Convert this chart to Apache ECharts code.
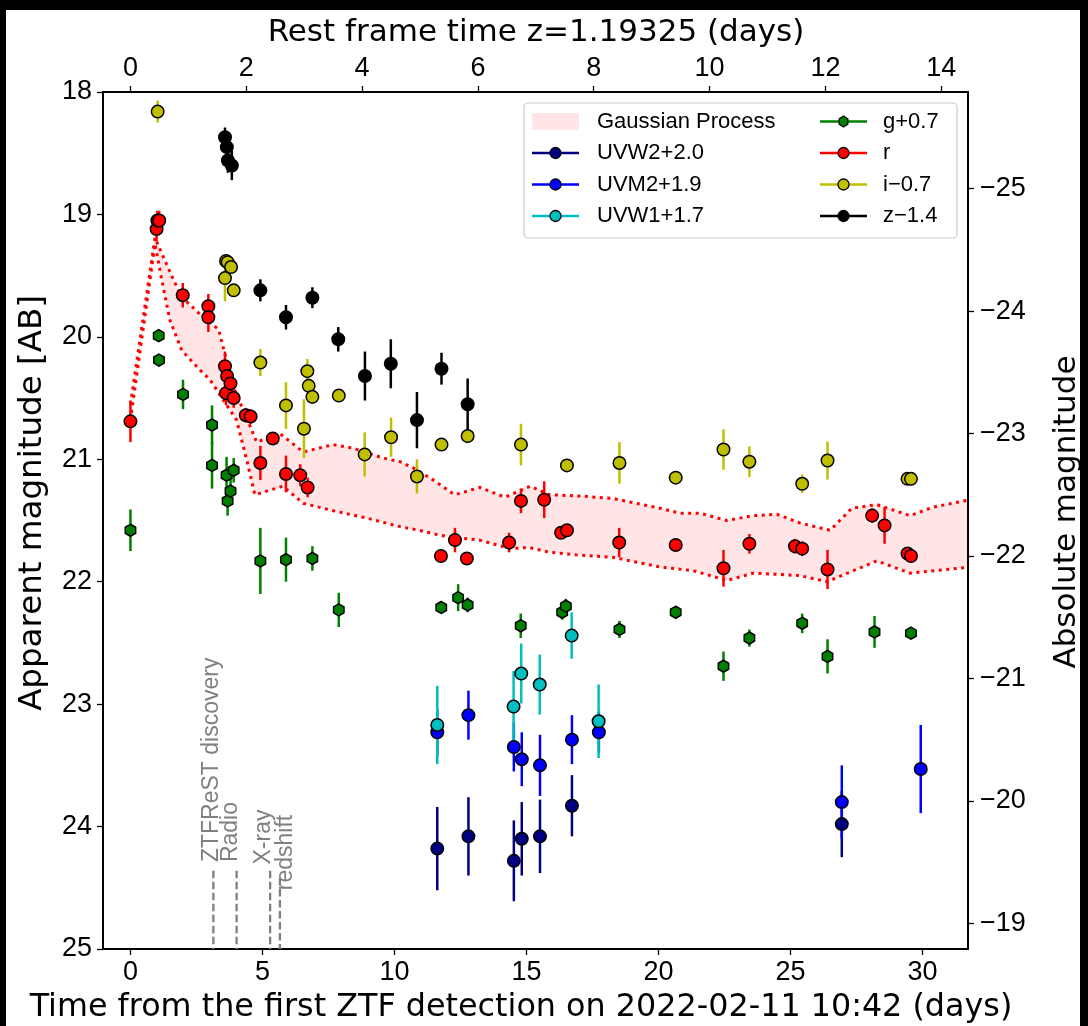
<!DOCTYPE html>
<html><head><meta charset="utf-8">
<script src="https://cdn.jsdelivr.net/npm/echarts@6/dist/echarts.min.js"></script>
<style>html,body{margin:0;padding:0;background:#000;}#c{width:1088px;height:1026px;}</style>
</head><body><div id="c"></div>
<script>
// ---------------- data ----------------
const REDSHIFT = 1.19325;
const DIST_MOD = 43.79;
const xTicksObs = [0, 5, 10, 15, 20, 25, 30];
const xTicksRest = [0, 2, 4, 6, 8, 10, 12, 14];
const yTicksApp = [18, 19, 20, 21, 22, 23, 24, 25];
const yTicksAbs = [-25, -24, -23, -22, -21, -20, -19];

const uvw2T = [11.62, 12.80, 14.52, 14.82, 15.51, 16.72, 26.94];
const uvw2Mag = [24.18, 24.08, 24.28, 24.10, 24.08, 23.83, 23.98];
const uvw2Err = [0.34, 0.32, 0.33, 0.30, 0.30, 0.25, 0.27];

const uvm2T = [11.62, 12.80, 14.52, 14.82, 15.51, 16.72, 17.74, 26.94, 29.93];
const uvm2Mag = [23.23, 23.09, 23.35, 23.45, 23.50, 23.29, 23.23, 23.80, 23.53];
const uvm2Err = [0.19, 0.20, 0.20, 0.22, 0.25, 0.20, 0.17, 0.30, 0.36];

const uvw1T = [11.62, 14.51, 14.80, 15.50, 16.71, 17.73];
const uvw1Mag = [23.17, 23.02, 22.75, 22.84, 22.44, 23.14];
const uvw1Err = [0.32, 0.29, 0.245, 0.245, 0.19, 0.30];

const gT = [0.0, 1.07, 1.08, 1.99, 3.09, 3.09, 3.64, 3.68, 3.79, 3.91, 4.92, 5.89, 6.89, 7.89, 11.77, 12.41, 12.77, 14.78, 16.35, 16.49, 18.52, 20.65, 22.46, 23.44, 25.44, 26.40, 28.18, 29.56];
const gMag = [21.58, 19.99, 20.19, 20.47, 20.72, 21.05, 21.13, 21.34, 21.26, 21.09, 21.83, 21.82, 21.81, 22.23, 22.21, 22.13, 22.19, 22.36, 22.25, 22.20, 22.39, 22.25, 22.69, 22.46, 22.34, 22.61, 22.41, 22.42];
const gErr = [0.17, 0.05, 0.05, 0.12, 0.16, 0.19, 0.15, 0.12, 0.10, 0.10, 0.27, 0.18, 0.10, 0.14, 0.04, 0.11, 0.06, 0.10, 0.06, 0.06, 0.07, 0.03, 0.12, 0.07, 0.08, 0.14, 0.13, 0.03];

const rT = [0.0, 0.99, 1.02, 1.09, 1.98, 2.95, 2.95, 3.58, 3.62, 3.66, 3.79, 3.91, 4.37, 4.55, 4.92, 5.39, 5.89, 6.43, 6.71, 11.76, 12.29, 12.74, 14.34, 14.79, 15.67, 16.31, 16.53, 18.51, 20.65, 22.46, 23.44, 25.17, 25.44, 26.40, 28.09, 28.56, 29.43, 29.56];
const rMag = [20.69, 19.12, 19.05, 19.05, 19.66, 19.75, 19.84, 20.24, 20.46, 20.32, 20.38, 20.50, 20.64, 20.65, 21.03, 20.83, 21.12, 21.13, 21.23, 21.79, 21.66, 21.81, 21.68, 21.34, 21.33, 21.60, 21.58, 21.68, 21.70, 21.89, 21.69, 21.71, 21.73, 21.90, 21.46, 21.54, 21.77, 21.79];
const rErr = [0.17, 0.10, 0.08, 0.08, 0.10, 0.10, 0.12, 0.12, 0.10, 0.10, 0.10, 0.08, 0.06, 0.06, 0.14, 0.05, 0.15, 0.09, 0.08, 0.04, 0.10, 0.05, 0.08, 0.10, 0.15, 0.05, 0.05, 0.12, 0.03, 0.15, 0.08, 0.06, 0.06, 0.16, 0.06, 0.15, 0.03, 0.03];

const iT = [1.03, 3.58, 3.62, 3.68, 3.81, 3.91, 4.92, 5.89, 6.57, 6.70, 6.75, 6.89, 7.89, 8.87, 9.87, 10.85, 11.78, 12.77, 14.79, 16.53, 18.52, 20.65, 22.46, 23.44, 25.44, 26.40, 29.43, 29.56];
const iMag = [18.16, 19.52, 19.38, 19.39, 19.43, 19.62, 20.21, 20.56, 20.75, 20.28, 20.40, 20.49, 20.48, 20.96, 20.82, 21.14, 20.88, 20.81, 20.88, 21.05, 21.03, 21.15, 20.92, 21.02, 21.20, 21.01, 21.16, 21.16];
const iErr = [0.09, 0.19, 0.05, 0.05, 0.05, 0.05, 0.11, 0.19, 0.24, 0.10, 0.06, 0.06, 0.05, 0.18, 0.16, 0.14, 0.04, 0.06, 0.17, 0.04, 0.17, 0.05, 0.165, 0.125, 0.075, 0.155, 0.03, 0.03];

const zT = [3.58, 3.65, 3.69, 3.84, 4.92, 5.89, 6.89, 7.87, 8.88, 9.86, 10.85, 11.78, 12.77];
const zMag = [18.37, 18.45, 18.56, 18.60, 19.62, 19.84, 19.68, 20.02, 20.32, 20.22, 20.68, 20.26, 20.55];
const zErr = [0.08, 0.08, 0.10, 0.12, 0.09, 0.10, 0.085, 0.10, 0.20, 0.20, 0.23, 0.13, 0.21];

const gpUpperT = [0.0, 0.93, 1.33, 1.92, 2.61, 3.34, 3.90, 4.59, 4.78, 5.66, 6.54, 7.68, 8.44, 9.57, 10.21, 10.71, 11.47, 12.28, 13.24, 14.19, 15.14, 15.88, 17.03, 18.28, 20.06, 20.81, 21.57, 22.58, 23.59, 24.48, 25.36, 26.50, 27.32, 28.26, 29.53, 30.41, 31.8];
const gpUpperMag = [20.55, 19.19, 19.39, 19.67, 19.81, 19.94, 20.41, 20.76, 20.86, 20.79, 20.94, 20.88, 20.91, 20.99, 21.02, 21.07, 21.17, 21.29, 21.23, 21.31, 21.22, 21.29, 21.30, 21.32, 21.40, 21.44, 21.44, 21.50, 21.46, 21.45, 21.52, 21.58, 21.40, 21.37, 21.46, 21.39, 21.33];
const gpLowerT = [0.0, 0.93, 1.19, 1.49, 1.94, 2.63, 3.01, 4.02, 4.41, 4.71, 5.77, 6.54, 7.68, 8.94, 10.21, 10.93, 11.72, 12.32, 13.21, 14.40, 15.09, 15.88, 16.87, 18.26, 20.06, 21.32, 22.58, 23.59, 25.36, 26.38, 27.38, 28.26, 29.53, 31.8];
const gpLowerMag = [20.68, 19.24, 19.54, 19.86, 20.11, 20.27, 20.35, 20.68, 21.01, 21.29, 21.22, 21.36, 21.42, 21.48, 21.55, 21.58, 21.62, 21.64, 21.66, 21.73, 21.72, 21.76, 21.78, 21.80, 21.88, 21.91, 21.99, 21.93, 21.95, 22.00, 21.91, 21.83, 21.93, 21.88];

const eventT = [3.14, 4.02, 5.29, 5.66];
const eventTop = [24.36, 24.36, 24.36, 24.42];
const eventLabels = ['ZTFReST discovery', 'Radio', 'X-ray', 'redshift'];
const eventLabelT = [3.09, 3.81, 5.06, 5.89];
const eventLabelMag = [24.29, 24.29, 24.31, 24.52];

const bandNames = ['UVW2+2.0', 'UVM2+1.9', 'UVW1+1.7', 'g+0.7', 'r', 'i\u22120.7', 'z\u22121.4'];
const bandColors = ['#000080', '#0000ff', '#00bfbf', '#008000', '#ff0000', '#bfbf00', '#000000'];

const xTitle = 'Time from the first ZTF detection on 2022-02-11 10:42 (days)';
const x2Title = 'Rest frame time z=1.19325 (days)';
const yTitle = 'Apparent magnitude [AB]';
const y2Title = 'Absolute magnitude';

// ---------------- chart ----------------
const bands = [
  [uvw2T, uvw2Mag, uvw2Err], [uvm2T, uvm2Mag, uvm2Err], [uvw1T, uvw1Mag, uvw1Err],
  [gT, gMag, gErr], [rT, rMag, rErr], [iT, iMag, iErr], [zT, zMag, zErr]
];
const HEX = 'path://M0,-10L8.66,-5L8.66,5L0,10L-8.66,5L-8.66,-5Z';
const tickFont = {fontFamily: 'Liberation Sans', fontSize: 27, color: '#000'};
const X_MIN = -1.04, X_MAX = 31.72;

const series = [];
series.push({
  type: 'custom', name: 'Gaussian Process', clip: true, silent: true, z: 1,
  data: [[0, 20]],
  renderItem: function (params, api) {
    const up = gpUpperT.map((t, i) => api.coord([t, gpUpperMag[i]]));
    const lo = gpLowerT.map((t, i) => api.coord([t, gpLowerMag[i]]));
    const poly = up.concat(lo.slice().reverse());
    const ls = {stroke: '#ff0000', lineWidth: 3, lineDash: [3, 4.5], fill: null};
    return {type: 'group', children: [
      {type: 'polygon', shape: {points: poly}, style: {fill: 'rgba(255,0,0,0.1)'}},
      {type: 'polyline', shape: {points: up}, style: ls},
      {type: 'polyline', shape: {points: lo}, style: Object.assign({}, ls)}
    ]};
  }
});
series.push({
  type: 'custom', name: 'events', clip: true, silent: true, z: 1,
  data: eventT.map((t, i) => [t, eventTop[i], eventLabelT[i], eventLabelMag[i], i]),
  renderItem: function (params, api) {
    const i = api.value(4);
    const p1 = api.coord([api.value(0), api.value(1)]);
    const p2 = api.coord([api.value(0), 25]);
    const pl = api.coord([api.value(2), api.value(3)]);
    return {type: 'group', children: [
      {type: 'line', shape: {x1: p1[0], y1: p1[1], x2: p2[0], y2: p2[1]},
       style: {stroke: '#808080', lineWidth: 2.3, lineDash: [7.5, 3.5]}},
      {type: 'text', x: pl[0], y: pl[1], rotation: Math.PI / 2,
       style: {text: eventLabels[i], fill: '#808080', font: '23px "Liberation Sans"',
               textAlign: 'left', textVerticalAlign: 'middle', verticalAlign: 'middle'}}
    ]};
  }
});
bands.forEach((b, k) => {
  const color = bandColors[k];
  series.push({
    type: 'custom', name: bandNames[k] + ' err', clip: true, silent: true, z: 2,
    data: b[0].map((t, i) => [t, b[1][i], b[2][i]]),
    renderItem: function (params, api) {
      const x = api.value(0), y = api.value(1), e = api.value(2);
      const p1 = api.coord([x, y - e]), p2 = api.coord([x, y + e]);
      return {type: 'line', shape: {x1: p1[0], y1: p1[1], x2: p2[0], y2: p2[1]},
              style: {stroke: color, lineWidth: 2.5}};
    }
  });
  series.push({
    type: 'scatter', name: bandNames[k], silent: true, z: 2,
    symbol: k === 3 ? HEX : 'circle',
    symbolSize: k === 3 ? [10.5, 12] : 12.5,
    data: b[0].map((t, i) => [t, b[1][i]]),
    itemStyle: {color: color, borderColor: '#000', borderWidth: 1.5, opacity: 1}
  });
});

// legend drawn as graphic
const legendItems = [];
legendItems.push({type: 'rect', shape: {x: 524, y: 103, width: 433, height: 135, r: 4},
  style: {fill: 'rgba(255,255,255,0.8)', stroke: '#cccccc', lineWidth: 1.2}});
const rowY = [121.5, 153, 184.5, 216];
const legFont = '22px "Liberation Sans"';
legendItems.push({type: 'rect', shape: {x: 532, y: 113, width: 47, height: 17},
  style: {fill: 'rgba(255,0,0,0.1)'}});
legendItems.push({type: 'text', x: 597, y: rowY[0], style: {text: 'Gaussian Process', font: legFont, fill: '#000', textVerticalAlign: 'middle', verticalAlign: 'middle'}});
bandNames.forEach((nm, k) => {
  const col = k < 3 ? 0 : 1;
  const row = k < 3 ? k + 1 : k - 3;
  const x0 = col === 0 ? 532 : 820;
  const tx = col === 0 ? 597 : 883;
  const y = rowY[row];
  legendItems.push({type: 'line', shape: {x1: x0, y1: y, x2: x0 + 47, y2: y},
    style: {stroke: bandColors[k], lineWidth: 2.5}});
  if (k === 3) {
    const r = 5;
    const pts = [];
    for (let a = 0; a < 6; a++) {
      const ang = -Math.PI / 2 + a * Math.PI / 3;
      pts.push([x0 + 23.5 + r * Math.cos(ang), y + r * 1.1 * Math.sin(ang)]);
    }
    legendItems.push({type: 'polygon', shape: {points: pts}, style: {fill: bandColors[k], stroke: '#000', lineWidth: 1.3}});
  } else {
    legendItems.push({type: 'circle', shape: {cx: x0 + 23.5, cy: y, r: 5.5},
      style: {fill: bandColors[k], stroke: '#000', lineWidth: 1.3}});
  }
  legendItems.push({type: 'text', x: tx, y: y, style: {text: nm, font: legFont, fill: '#000', textVerticalAlign: 'middle', verticalAlign: 'middle'}});
});
// axis titles
const titles = [
  {type: 'text', x: 521, y: 1008, style: {text: xTitle, font: '31.8px "DejaVu Sans"', fill: '#000', textAlign: 'center', textVerticalAlign: 'middle', align: 'center', verticalAlign: 'middle'}},
  {type: 'text', x: 536, y: 33, style: {text: x2Title, font: '31px "DejaVu Sans"', fill: '#000', textAlign: 'center', textVerticalAlign: 'middle', align: 'center', verticalAlign: 'middle'}},
  {type: 'text', x: 33, y: 503, rotation: Math.PI / 2, style: {text: yTitle, font: '32.5px "DejaVu Sans"', fill: '#000', textAlign: 'center', textVerticalAlign: 'middle', align: 'center', verticalAlign: 'middle'}},
  {type: 'text', x: 1067, y: 512, rotation: Math.PI / 2, style: {text: y2Title, font: '31px "DejaVu Sans"', fill: '#000', textAlign: 'center', textVerticalAlign: 'middle', align: 'center', verticalAlign: 'middle'}}
];
// figure frame (dark border of the original image)
const frame = [
  {type: 'rect', shape: {x: 0, y: 0, width: 1088, height: 10}, style: {fill: '#000'}},
  {type: 'rect', shape: {x: 0, y: 0, width: 6, height: 1026}, style: {fill: '#000'}},
  {type: 'rect', shape: {x: 1080, y: 0, width: 8, height: 1026}, style: {fill: '#000'}}
];

const tickStyle = {show: true, length: 6, lineStyle: {color: '#000', width: 1.3}};
const minus = v => (v < 0 ? '\u2212' + Math.abs(v) : String(v));
const axisLine = {show: true, onZero: false, lineStyle: {color: '#000', width: 2}};

const option = {
  animation: false,
  backgroundColor: '#ffffff',
  grid: {left: 103, top: 92, width: 865, height: 857, containLabel: false},
  xAxis: [
    {type: 'value', position: 'bottom', min: X_MIN, max: X_MAX, axisLine: axisLine,
     axisTick: Object.assign({customValues: xTicksObs}, tickStyle),
     axisLabel: Object.assign({customValues: xTicksObs, margin: 10, formatter: v => String(v)}, tickFont),
     splitLine: {show: false}},
    {type: 'value', position: 'top', min: X_MIN / (1 + REDSHIFT), max: X_MAX / (1 + REDSHIFT), axisLine: axisLine,
     axisTick: Object.assign({customValues: xTicksRest}, tickStyle),
     axisLabel: Object.assign({customValues: xTicksRest, margin: 10, formatter: v => String(v)}, tickFont),
     splitLine: {show: false}}
  ],
  yAxis: [
    {type: 'value', position: 'left', min: 18, max: 25, interval: 1, inverse: true, axisLine: axisLine,
     axisTick: Object.assign({customValues: yTicksApp}, tickStyle),
     axisLabel: Object.assign({customValues: yTicksApp, margin: 11, formatter: v => String(v)}, tickFont),
     splitLine: {show: false}},
    {type: 'value', position: 'right', min: 18 - DIST_MOD, max: 25 - DIST_MOD, inverse: true, axisLine: axisLine,
     axisTick: Object.assign({customValues: yTicksAbs}, tickStyle),
     axisLabel: Object.assign({customValues: yTicksAbs, margin: 12, formatter: minus}, tickFont),
     splitLine: {show: false}}
  ],
  series: series,
  graphic: legendItems.concat(titles, frame).map(g => Object.assign({silent: true, z: 100}, g))
};
const chart = echarts.init(document.getElementById('c'), null, {renderer: 'canvas'});
chart.setOption(option);
</script></body></html>
